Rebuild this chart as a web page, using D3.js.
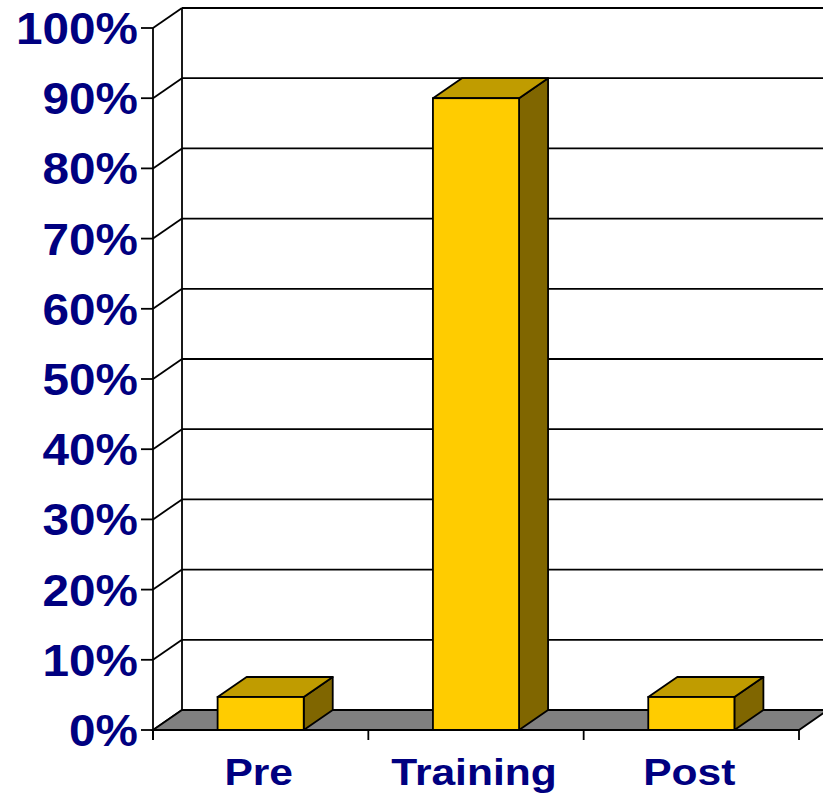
<!DOCTYPE html>
<html>
<head>
<meta charset="utf-8">
<script src="https://cdn.jsdelivr.net/npm/d3@7"></script>
<style>
  body { margin: 0; background: #fff; }
  svg { display: block; }
</style>
</head>
<body>
<svg width="823" height="794"></svg>
<script>
(function () {
    'use strict'

    const categories = ['Pre', 'Training', 'Post'];
    const values = [0.047, 0.90, 0.047];
    const yTicks = [0, 0.1, 0.2, 0.3, 0.4, 0.5, 0.6, 0.7, 0.8, 0.9, 1.0];

    const NAVY = '#000080';
    const depth = { dx: 29, dy: -20 };   // 3d offset of back wall
    const SW = 1.8;

    let svg = d3.select('svg');

    // front plane scales
    let y = d3.scaleLinear().domain([0, 1]).range([730, 28]);
    let x = d3.scaleBand().domain(categories).range([153, 799]);
    let bw = x.bandwidth();

    let g = svg.append('g');

    // back wall gridlines + left wall diagonals
    yTicks.forEach(t => {
        g.append('line')
            .attr('x1', 153).attr('y1', y(t))
            .attr('x2', 153 + depth.dx).attr('y2', y(t) + depth.dy)
            .attr('stroke', '#000').attr('stroke-width', SW);
        g.append('line')
            .attr('x1', 153 + depth.dx).attr('y1', y(t) + depth.dy)
            .attr('x2', 840).attr('y2', y(t) + depth.dy)
            .attr('stroke', '#000').attr('stroke-width', SW);
    });

    // back wall left edge
    g.append('line')
        .attr('x1', 153 + depth.dx).attr('y1', y(1) + depth.dy)
        .attr('x2', 153 + depth.dx).attr('y2', y(0) + depth.dy)
        .attr('stroke', '#000').attr('stroke-width', SW);

    // floor
    let x0 = x.range()[0], x1 = x.range()[1];
    g.append('polygon')
        .attr('points', [
            [x0, y(0)], [x1, y(0)],
            [x1 + depth.dx, y(0) + depth.dy], [x0 + depth.dx, y(0) + depth.dy]
        ].map(p => p.join(',')).join(' '))
        .attr('fill', '#808080')
        .attr('stroke', '#000').attr('stroke-width', SW);

    // bars
    let bars = g.selectAll('g.bar')
        .data(categories.map((c, i) => ({ c: c, v: values[i] })))
        .enter()
        .append('g')
        .attr('class', 'bar');

    const bx = d => x(d.c) + bw * 0.3;
    const bwid = bw * 0.4;

    // side face
    bars.append('polygon')
        .attr('points', d => {
            let r = bx(d) + bwid;
            return [[r, y(d.v)], [r + depth.dx, y(d.v) + depth.dy],
                    [r + depth.dx, y(0) + depth.dy], [r, y(0)]].map(p => p.join(',')).join(' ');
        })
        .attr('fill', '#806600')
        .attr('stroke', '#000').attr('stroke-width', SW).attr('stroke-linejoin', 'round');

    // top face
    bars.append('polygon')
        .attr('points', d => {
            let l = bx(d), r = bx(d) + bwid, t = y(d.v);
            return [[l, t], [l + depth.dx, t + depth.dy],
                    [r + depth.dx, t + depth.dy], [r, t]].map(p => p.join(',')).join(' ');
        })
        .attr('fill', '#C09C00')
        .attr('stroke', '#000').attr('stroke-width', SW).attr('stroke-linejoin', 'round');

    // front face
    bars.append('rect')
        .attr('x', bx)
        .attr('y', d => y(d.v))
        .attr('width', bwid)
        .attr('height', d => y(0) - y(d.v))
        .attr('fill', '#FFCC00')
        .attr('stroke', '#000').attr('stroke-width', SW);

    // front axes
    g.append('line')
        .attr('x1', 153).attr('y1', y(1))
        .attr('x2', 153).attr('y2', y(0) + 10)
        .attr('stroke', '#000').attr('stroke-width', SW);
    g.append('line')
        .attr('x1', x0).attr('y1', y(0))
        .attr('x2', x1).attr('y2', y(0))
        .attr('stroke', '#000').attr('stroke-width', SW);

    // y ticks
    g.selectAll('line.ytick')
        .data(yTicks)
        .enter()
        .append('line')
        .attr('class', 'ytick')
        .attr('x1', 141).attr('x2', 153)
        .attr('y1', d => y(d)).attr('y2', d => y(d))
        .attr('stroke', '#000').attr('stroke-width', SW);

    // x ticks at band edges
    let edges = categories.map(c => x(c)).concat([x1]);
    g.selectAll('line.xtick')
        .data(edges)
        .enter()
        .append('line')
        .attr('class', 'xtick')
        .attr('x1', d => d).attr('x2', d => d)
        .attr('y1', y(0)).attr('y2', y(0) + 10)
        .attr('stroke', '#000').attr('stroke-width', SW);

    // y labels
    g.selectAll('text.ylab')
        .data(yTicks)
        .enter()
        .append('text')
        .attr('class', 'ylab')
        .attr('transform', d => 'translate(138,' + (y(d) + 16) + ') scale(1.06,1)')
        .attr('text-anchor', 'end')
        .attr('font-family', 'Arial, "Liberation Sans", sans-serif')
        .attr('font-weight', 'bold')
        .attr('font-size', 45)
        .attr('fill', NAVY)
        .text(d3.format('.0%'));

    // x labels
    g.selectAll('text.xlab')
        .data(categories)
        .enter()
        .append('text')
        .attr('class', 'xlab')
        .attr('transform', d => 'translate(' + (x(d) + bw / 2 - 2) + ',785) scale(1.15,1)')
        .attr('text-anchor', 'middle')
        .attr('font-family', 'Arial, "Liberation Sans", sans-serif')
        .attr('font-weight', 'bold')
        .attr('font-size', 37)
        .attr('fill', NAVY)
        .text(d => d);
})();
</script>
</body>
</html>
